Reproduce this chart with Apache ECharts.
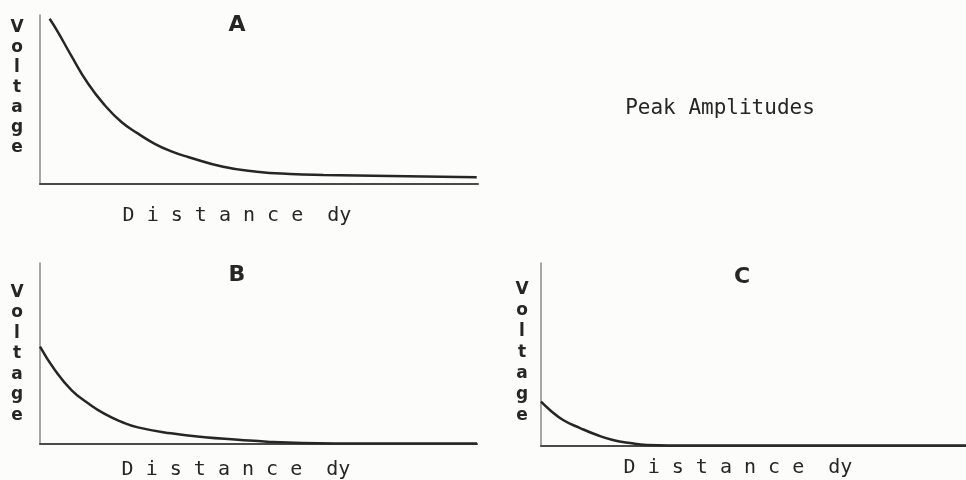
<!DOCTYPE html>
<html>
<head>
<meta charset="utf-8">
<script src="https://cdn.jsdelivr.net/npm/echarts@6/dist/echarts.min.js"></script>
<style>html,body{margin:0;padding:0;background:#fcfcfa;}#c{width:966px;height:480px;}</style>
</head>
<body>
<div id="c"></div>
<script>
// Panel A (distance, voltage), axes 0-100
const xA = [2.2, 4.1, 7.1, 11.0, 14.8, 18.6, 22.4, 26.2, 30.0, 33.8, 41.8, 49.5, 57.1, 64.7, 79.9, 99.7];
const yA = [97.8, 89.9, 76.1, 59.3, 46.6, 36.7, 29.8, 23.8, 19.3, 16.0, 10.2, 7.3, 5.9, 5.3, 4.7, 4.0];
// Panel B
const xB = [0, 3.4, 7.2, 11.0, 14.8, 18.6, 22.4, 30.0, 37.7, 45.3, 52.0, 60, 75, 100];
const yB = [53.8, 40.9, 29.8, 22.5, 16.6, 12.3, 9.2, 5.9, 3.7, 2.4, 1.3, 0.6, 0.3, 0.3];
// Panel C
const xC = [0, 2.1, 5.2, 9.2, 13.2, 16.9, 20.9, 24.9, 35, 60, 100];
const yC = [24.2, 19.7, 14.2, 9.8, 6.0, 3.3, 1.6, 0.6, 0.3, 0.3, 0.3];

const panelTitles = ['A', 'B', 'C'];
const yLabel = 'Voltage';
const xLabel = 'D i s t a n c e  dy';
const mainLabel = 'Peak Amplitudes';

const zip = (xs, ys) => xs.map((x, i) => [x, ys[i]]);

const chart = echarts.init(document.getElementById('c'));
const grids = [
  {left: 40, top: 15, right: 488, bottom: 296},
  {left: 40, top: 263, right: 489, bottom: 36},
  {left: 541, top: 263, right: 0, bottom: 34}
];
const xAxes = grids.map((g, i) => ({
  type: 'value', gridIndex: i, min: 0, max: 100,
  axisLine: {show: true, lineStyle: {color: '#4a4a4a', width: 2}},
  axisTick: {show: false}, axisLabel: {show: false}, splitLine: {show: false}
}));
const yAxes = grids.map((g, i) => ({
  type: 'value', gridIndex: i, min: 0, max: 100,
  axisLine: {show: true, onZero: false, lineStyle: {color: '#8a8a8a', width: 1.5}},
  axisTick: {show: false}, axisLabel: {show: false}, splitLine: {show: false}
}));
const dataSets = [zip(xA, yA), zip(xB, yB), zip(xC, yC)];
const series = dataSets.map((d, i) => ({
  type: 'line', xAxisIndex: i, yAxisIndex: i, data: d,
  smooth: 0.5, showSymbol: false, silent: true,
  lineStyle: {color: '#262626', width: 2.5}
}));

const vert = yLabel.split('').join('\n');
const textBase = {fill: '#262626', align: 'center', verticalAlign: 'middle'};
const graphic = [
  {type: 'text', x: 237, y: 25, style: Object.assign({text: panelTitles[0], font: 'bold 22px "DejaVu Sans"'}, textBase)},
  {type: 'text', x: 237, y: 275, style: Object.assign({text: panelTitles[1], font: 'bold 22px "DejaVu Sans"'}, textBase)},
  {type: 'text', x: 742, y: 277, style: Object.assign({text: panelTitles[2], font: 'bold 22px "DejaVu Sans"'}, textBase)},
  {type: 'text', x: 720, y: 109, style: Object.assign({text: mainLabel, font: '21px "DejaVu Sans Mono"'}, textBase)},
  {type: 'text', x: 17, y: 88, style: Object.assign({text: vert, font: 'bold 17px "DejaVu Sans"', lineHeight: 20}, textBase)},
  {type: 'text', x: 17, y: 354, style: Object.assign({text: vert, font: 'bold 17px "DejaVu Sans"', lineHeight: 20.5}, textBase)},
  {type: 'text', x: 522, y: 353, style: Object.assign({text: vert, font: 'bold 17px "DejaVu Sans"', lineHeight: 21}, textBase)},
  {type: 'text', x: 237, y: 216, style: Object.assign({text: xLabel, font: '20px "DejaVu Sans Mono"'}, textBase)},
  {type: 'text', x: 236, y: 470, style: Object.assign({text: xLabel, font: '20px "DejaVu Sans Mono"'}, textBase)},
  {type: 'text', x: 738, y: 468, style: Object.assign({text: xLabel, font: '20px "DejaVu Sans Mono"'}, textBase)}
];

chart.setOption({
  backgroundColor: '#fcfcfa',
  animation: false,
  grid: grids,
  xAxis: xAxes,
  yAxis: yAxes,
  series: series,
  graphic: graphic
});
</script>
</body>
</html>
